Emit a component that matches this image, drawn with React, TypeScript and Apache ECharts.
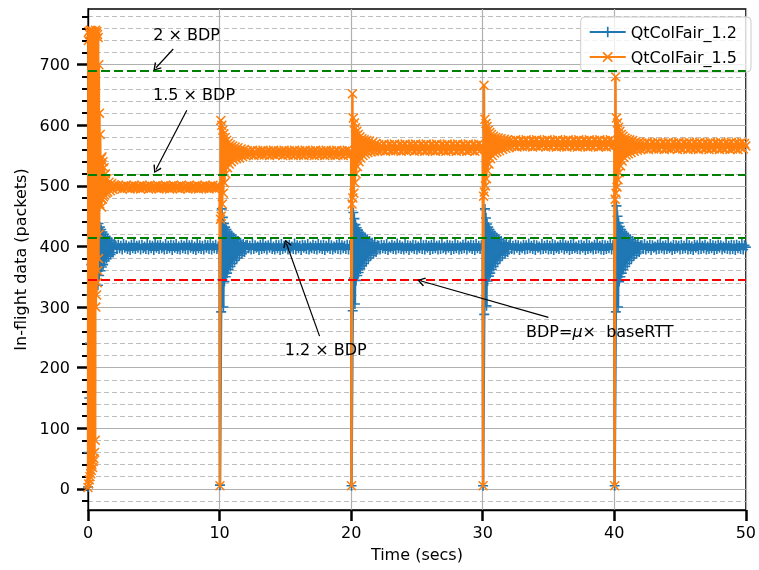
import React, { useEffect, useRef } from "react";
import * as echarts from "echarts";

// ---------- axes ----------
const X_MIN = 0;
const X_MAX = 50;
const X_INTERVAL = 10;
const Y_MIN = -35;
const Y_MAX = 792;
const yMajorTicks = [0, 100, 200, 300, 400, 500, 600, 700];
const yMinorTicks = [-20, 20, 40, 60, 80, 120, 140, 160, 180, 220, 240, 260, 280, 320, 340, 360, 380, 420, 440, 460, 480, 520, 540, 560, 580, 620, 640, 660, 680, 720, 740, 760, 780];

const seriesNames = ["QtColFair_1.2", "QtColFair_1.5"];

// ---------- QtColFair_1.2 (blue) ----------
const blueStart: [number, number][] = [
  [0, 3], [0.05, 60], [0.1, 150], [0.15, 240], [0.2, 320], [0.25, 370], [0.3, 390], [0.4, 400], [0.5, 395], [0.6, 405],
  [0.65, 368], [0.7, 430], [0.75, 336], [0.8, 438], [0.85, 352], [0.9, 432], [0.95, 360], [1.0, 428], [1.05, 366], [1.1, 424], [1.15, 370], [1.2, 420],
  [1.27, 376], [1.34, 416], [1.41, 380], [1.48, 413], [1.56, 384], [1.64, 410], [1.72, 387], [1.8, 407], [1.9, 390], [2.0, 404],
];
const blueT10: [number, number][] = [
  [10.0, 399], [10.03, 6], [10.12, 292], [10.17, 462], [10.21, 345], [10.25, 448], [10.29, 300], [10.33, 438], [10.37, 342], [10.42, 432],
  [10.47, 350], [10.52, 428], [10.57, 356], [10.63, 424], [10.69, 362], [10.76, 421], [10.83, 367], [10.9, 418], [10.98, 372], [11.06, 415], [11.14, 377],
  [11.22, 412], [11.31, 381], [11.4, 409], [11.5, 385], [11.6, 406], [11.7, 388], [11.8, 404], [11.9, 391], [12.0, 402],
];
const blueT20: [number, number][] = [
  [20.0, 398], [20.03, 5], [20.12, 294], [20.17, 456], [20.21, 348], [20.25, 446], [20.29, 305], [20.33, 436], [20.37, 344], [20.42, 431],
  [20.47, 352], [20.52, 427], [20.57, 357], [20.63, 423], [20.69, 363], [20.76, 420], [20.83, 368], [20.9, 417], [20.98, 372], [21.06, 415], [21.14, 377],
  [21.22, 412], [21.31, 381], [21.4, 409], [21.5, 385], [21.6, 406], [21.7, 388], [21.8, 404], [21.9, 391], [22.0, 402],
];
const blueT30: [number, number][] = [
  [30.0, 397], [30.03, 5], [30.12, 288], [30.17, 462], [30.21, 346], [30.25, 447], [30.29, 302], [30.33, 437], [30.37, 343], [30.42, 432],
  [30.47, 351], [30.52, 428], [30.57, 356], [30.63, 424], [30.69, 362], [30.76, 421], [30.83, 367], [30.9, 418], [30.98, 372], [31.06, 415], [31.14, 377],
  [31.22, 412], [31.31, 381], [31.4, 409], [31.5, 385], [31.6, 406], [31.7, 388], [31.8, 404], [31.9, 391], [32.0, 402],
];
const blueT40: [number, number][] = [
  [40.0, 399], [40.03, 5], [40.12, 292], [40.17, 467], [40.21, 344], [40.25, 450], [40.29, 300], [40.33, 439], [40.37, 342], [40.42, 433],
  [40.47, 350], [40.52, 428], [40.57, 356], [40.63, 424], [40.69, 362], [40.76, 421], [40.83, 367], [40.9, 418], [40.98, 372], [41.06, 415], [41.14, 377],
  [41.22, 412], [41.31, 381], [41.4, 409], [41.5, 385], [41.6, 406], [41.7, 388], [41.8, 404], [41.9, 391], [42.0, 402],
];
const blueSteadyA = [
  402, 396, 403, 397, 401, 395, 404, 398, 402, 396, 400, 394, 403, 397, 405, 396, 401, 398, 402, 395,
  403, 397, 400, 396, 404, 395, 402, 397, 401, 394, 405, 398, 402, 396, 403, 397, 400, 395, 404, 396,
  401, 397, 403, 394, 402, 398, 404, 396, 400, 395, 403, 397, 401, 396, 405, 395, 402, 398, 403, 396,
  400, 394, 404, 397, 402, 396, 401, 395, 403, 398, 402, 396, 404, 395, 401, 397, 403, 396, 400,
];
const blueSteadyB = [
  403, 397, 401, 395, 404, 396, 402, 398, 400, 394, 403, 396, 405, 397, 401, 395, 402, 398, 404, 396,
  400, 395, 403, 397, 402, 394, 404, 396, 401, 398, 402, 395, 403, 397, 400, 396, 405, 395, 402, 397,
  401, 394, 403, 398, 402, 396, 404, 395, 400, 397, 403, 396, 401, 395, 404, 397, 402, 396, 403, 394,
  401, 398, 404, 396, 402, 395, 400, 397, 403, 396, 405, 395, 402, 397, 401, 396, 403, 395, 402,
];
const blueSteadyC = [
  401, 395, 403, 397, 402, 396, 404, 394, 400, 398, 403, 396, 401, 395, 405, 397, 402, 396, 400, 395,
  404, 397, 402, 394, 401, 398, 403, 396, 402, 395, 400, 397, 404, 396, 402, 395, 403, 398, 401, 394,
  403, 396, 405, 397, 401, 395, 402, 396, 404, 397, 400, 395, 403, 398, 402, 394, 401, 396, 404, 397,
  402, 395, 400, 396, 403, 397, 405, 395, 401, 398, 403, 396, 402, 394, 404, 397, 401, 396, 402,
];
const blueSteadyD = [
  404, 396, 401, 395, 403, 398, 402, 394, 400, 397, 403, 395, 402, 396, 405, 397, 401, 396, 403, 394,
  402, 398, 400, 395, 404, 396, 401, 397, 403, 395, 401, 396, 404, 394, 402, 397, 400, 396, 403, 398,
  405, 395, 402, 397, 401, 394, 403, 396, 404, 397, 400, 396, 402, 395, 403, 398, 401, 394, 404, 396,
  402, 397, 400, 395, 403, 396, 405, 397, 401, 395, 403, 394, 402, 396, 401, 397, 404, 395, 402,
];
const blueSteadyE = [
  402, 396, 404, 395, 401, 397, 403, 394, 402, 398, 400, 395, 403, 396, 405, 397, 401, 395, 402, 396,
  404, 397, 400, 394, 403, 396, 402, 398, 401, 395, 403, 396, 401, 397, 404, 395, 402, 396, 400, 394,
  403, 398, 402, 395, 405, 396, 401, 397, 403, 395, 400, 396, 404, 397, 402, 394, 401, 396, 403, 398,
  402, 395, 400, 397, 404, 396, 401, 395, 403, 396, 402, 394, 403, 397, 401, 396, 404, 395, 402, 399,
];

// ---------- QtColFair_1.5 (orange) ----------
const orangeStart: [number, number][] = [
  [0, 2], [0.025, 740], [0.05, 8], [0.075, 755], [0.1, 15], [0.125, 750], [0.15, 20], [0.175, 757], [0.2, 25], [0.225, 752], [0.25, 30], [0.275, 756],
  [0.3, 40], [0.325, 750], [0.35, 35], [0.375, 755], [0.4, 45], [0.425, 748], [0.45, 50], [0.475, 754], [0.5, 60], [0.525, 750], [0.55, 80], [0.575, 757],
  [0.6, 300], [0.625, 752], [0.65, 320], [0.675, 755], [0.7, 340], [0.725, 750], [0.75, 360], [0.775, 745], [0.8, 380], [0.825, 700], [0.85, 420],
  [0.875, 620], [0.9, 470], [0.93, 585], [0.96, 480], [1.0, 545], [1.03, 465], [1.06, 548], [1.1, 478], [1.14, 540], [1.18, 482], [1.22, 530],
  [1.27, 485], [1.32, 520], [1.38, 488], [1.44, 512], [1.5, 490], [1.6, 506], [1.7, 492], [1.8, 504], [1.9, 494], [2.0, 502],
];
const orangeT10: [number, number][] = [
  [10.0, 497], [10.03, 5], [10.07, 445], [10.1, 608], [10.13, 450], [10.17, 600], [10.21, 470], [10.25, 592], [10.29, 488], [10.33, 586], [10.38, 505],
  [10.43, 580], [10.48, 520], [10.54, 575], [10.6, 530], [10.67, 571], [10.74, 536], [10.82, 568], [10.9, 540], [10.99, 566], [11.08, 543], [11.18, 564],
  [11.28, 545], [11.4, 563], [11.52, 546], [11.64, 561], [11.76, 548], [11.88, 560], [12.0, 550],
];
const orangeT20: [number, number][] = [
  [20.0, 553], [20.03, 5], [20.07, 470], [20.1, 652], [20.13, 480], [20.17, 612], [20.21, 488], [20.25, 604], [20.29, 505], [20.33, 596], [20.38, 520],
  [20.43, 590], [20.48, 532], [20.54, 585], [20.6, 540], [20.67, 581], [20.74, 546], [20.82, 578], [20.9, 550], [20.99, 576], [21.08, 553], [21.18, 575],
  [21.28, 555], [21.4, 574], [21.52, 556], [21.64, 572], [21.76, 557], [21.88, 570], [22.0, 558],
];
const orangeT30: [number, number][] = [
  [30.0, 565], [30.03, 5], [30.07, 483], [30.1, 666], [30.13, 490], [30.17, 610], [30.21, 500], [30.25, 603], [30.29, 512], [30.33, 598], [30.38, 525],
  [30.43, 592], [30.48, 536], [30.54, 588], [30.6, 545], [30.67, 585], [30.74, 550], [30.82, 582], [30.9, 554], [30.99, 580], [31.08, 556], [31.18, 579],
  [31.28, 558], [31.4, 578], [31.52, 560], [31.64, 577], [31.76, 562], [31.88, 576], [32.0, 563],
];
const orangeT40: [number, number][] = [
  [40.0, 569], [40.03, 5], [40.07, 478], [40.1, 680], [40.13, 488], [40.17, 612], [40.21, 498], [40.25, 604], [40.29, 510], [40.33, 597], [40.38, 522],
  [40.43, 590], [40.48, 533], [40.54, 585], [40.6, 541], [40.67, 582], [40.74, 547], [40.82, 579], [40.9, 551], [40.99, 577], [41.08, 553], [41.18, 576],
  [41.28, 555], [41.4, 575], [41.52, 557], [41.64, 573], [41.76, 559], [41.88, 572], [42.0, 560],
];
const orangeSteadyA = [
  500, 496, 501, 497, 499, 495, 500, 497, 501, 496, 499, 495, 500, 497, 501, 496, 499, 497, 500, 495,
  501, 496, 499, 497, 500, 495, 501, 496, 499, 497, 500, 496, 501, 495, 499, 497, 500, 496, 501, 497,
  499, 495, 500, 496, 501, 497, 499, 496, 500, 495, 501, 497, 499, 496, 500, 495, 501, 497, 499, 496,
  500, 496, 501, 495, 499, 497, 500, 496, 501, 497, 499, 495, 500, 497, 501, 496, 499, 497, 500,
];
const orangeSteadyB = [
  558, 551, 557, 552, 559, 550, 556, 553, 558, 551, 557, 552, 559, 551, 556, 553, 558, 550, 557, 552,
  559, 551, 556, 552, 558, 553, 557, 550, 559, 552, 556, 551, 558, 553, 557, 550, 559, 552, 556, 551,
  558, 552, 557, 550, 559, 553, 556, 551, 558, 552, 557, 550, 559, 552, 556, 551, 558, 553, 557, 550,
  559, 552, 556, 551, 558, 553, 557, 550, 559, 551, 556, 552, 558, 550, 557, 553, 559, 551, 557,
];
const orangeSteadyC = [
  568, 558, 567, 559, 569, 557, 566, 560, 568, 558, 567, 559, 569, 558, 566, 560, 568, 557, 567, 559,
  569, 558, 566, 559, 568, 560, 567, 557, 569, 559, 566, 558, 568, 560, 567, 557, 569, 559, 566, 558,
  568, 559, 567, 557, 569, 560, 566, 558, 568, 559, 567, 557, 569, 559, 566, 558, 568, 560, 567, 557,
  569, 559, 566, 558, 568, 560, 567, 557, 569, 558, 566, 559, 568, 557, 567, 560, 569, 558, 567,
];
const orangeSteadyD = [
  575, 565, 574, 566, 576, 564, 573, 567, 575, 565, 574, 566, 576, 565, 573, 567, 575, 564, 574, 566,
  576, 565, 573, 566, 575, 567, 574, 564, 576, 566, 573, 565, 575, 567, 574, 564, 576, 566, 573, 565,
  575, 566, 574, 564, 576, 567, 573, 565, 575, 566, 574, 564, 576, 566, 573, 565, 575, 567, 574, 564,
  576, 566, 573, 565, 575, 567, 574, 564, 576, 565, 573, 566, 575, 564, 574, 567, 576, 565, 574,
];
const orangeSteadyE = [
  571, 561, 570, 562, 572, 560, 569, 563, 571, 561, 570, 562, 572, 561, 569, 563, 571, 560, 570, 562,
  572, 561, 569, 562, 571, 563, 570, 560, 572, 562, 569, 561, 571, 563, 570, 560, 572, 562, 569, 561,
  571, 562, 570, 560, 572, 563, 569, 561, 571, 562, 570, 560, 572, 562, 569, 561, 571, 563, 570, 560,
  572, 562, 569, 561, 571, 563, 570, 560, 572, 561, 569, 562, 571, 560, 570, 563, 572, 561, 570, 566,
];

// steady segments are sampled every 0.1 s starting at these times
const SAMPLE_STEP = 0.1;
const steadyStarts = [2.1, 12.1, 22.1, 32.1, 42.1];

// ---------- reference lines & annotations ----------
const refLineValues = [690, 518, 415, 345];
const refLineColors = ["#008000", "#008000", "#008000", "#ff0000"];
const annoTexts = ["2 × BDP", "1.5 × BDP", "1.2 × BDP", "BDP={i|μ}×  baseRTT"];
const annoTextPos: [number, number][] = [[7.49, 749.5], [8.06, 650.6], [18.07, 230.3], [38.9, 259.6]];
const annoArrowFrom: [number, number][] = [[6.48, 726], [7.51, 625], [17.6, 252], [34.99, 283]];
const annoArrowTo: [number, number][] = [[5.17, 695], [5.17, 527], [15.08, 405], [25.32, 343]];

const FONT = "DejaVu Sans";
const PLUS = "path://M4.2,0H5.8V4.2H10V5.8H5.8V10H4.2V5.8H0V4.2H4.2Z";
const CROSS = "path://M0,1.1L1.1,0L5,3.9L8.9,0L10,1.1L6.1,5L10,8.9L8.9,10L5,6.1L1.1,10L0,8.9L3.9,5Z";
const CHEVRON = "path://M5,0L10,7L8.8,8L5,2.4L1.2,8L0,7Z";

function steady(start: number, values: number[]): [number, number][] {
  return values.map((v, i) => [Math.round((start + i * SAMPLE_STEP) * 100) / 100, v]);
}

export default function App() {
  const ref = useRef<HTMLDivElement>(null);
  useEffect(() => {
    if (!ref.current) return;
    const chart = echarts.init(ref.current, null, { renderer: "svg" });

    const blueData = [
      ...blueStart, ...steady(steadyStarts[0], blueSteadyA),
      ...blueT10, ...steady(steadyStarts[1], blueSteadyB),
      ...blueT20, ...steady(steadyStarts[2], blueSteadyC),
      ...blueT30, ...steady(steadyStarts[3], blueSteadyD),
      ...blueT40, ...steady(steadyStarts[4], blueSteadyE),
    ];
    const orangeData = [
      ...orangeStart, ...steady(steadyStarts[0], orangeSteadyA),
      ...orangeT10, ...steady(steadyStarts[1], orangeSteadyB),
      ...orangeT20, ...steady(steadyStarts[2], orangeSteadyC),
      ...orangeT30, ...steady(steadyStarts[3], orangeSteadyD),
      ...orangeT40, ...steady(steadyStarts[4], orangeSteadyE),
    ];

    const textStyle = { fontFamily: FONT, fontSize: 16, color: "#000" };

    chart.setOption({
      animation: false,
      grid: { left: 88, right: 7, top: 9, bottom: 60, show: true, borderColor: "#000", borderWidth: 1.3, backgroundColor: "transparent" },
      legend: {
        data: seriesNames,
        orient: "vertical",
        right: 8,
        top: 17,
        padding: [6, 14, 6, 8],
        itemGap: 7,
        itemWidth: 36,
        itemHeight: 13,
        itemTextGap: 8,
        backgroundColor: "rgba(255,255,255,0.8)",
        borderColor: "#cccccc",
        borderWidth: 1,
        borderRadius: 4,
        textStyle: { ...textStyle, lineHeight: 18 },
      },
      xAxis: {
        type: "value",
        min: X_MIN,
        max: X_MAX,
        interval: X_INTERVAL,
        name: "Time (secs)",
        nameLocation: "middle",
        nameGap: 36,
        nameTextStyle: textStyle,
        axisLine: { show: true, onZero: false, lineStyle: { color: "#000", width: 1.3 } },
        axisTick: { show: true, length: 11, lineStyle: { color: "#000", width: 2.5 } },
        axisLabel: { ...textStyle, margin: 14 },
        splitLine: { show: true, lineStyle: { color: "#b0b0b0", width: 1.2 } },
      },
      yAxis: [
        {
          type: "value",
          min: Y_MIN,
          max: Y_MAX,
          position: "left",
          name: "In-flight data (packets)",
          nameLocation: "middle",
          nameGap: 56,
          nameTextStyle: textStyle,
          axisLine: { show: true, onZero: false, lineStyle: { color: "#000", width: 1.3 } },
          axisTick: { show: true, length: 11, customValues: yMajorTicks, lineStyle: { color: "#000", width: 2.5 } },
          axisLabel: { ...textStyle, margin: 18, customValues: yMajorTicks },
          splitLine: { show: true, lineStyle: { color: "#b0b0b0", width: 1.2 } },
        },
        {
          type: "value",
          min: Y_MIN,
          max: Y_MAX,
          position: "left",
          axisLine: { show: false, onZero: false },
          axisTick: { show: true, length: 6, customValues: yMinorTicks, lineStyle: { color: "#000", width: 2 } },
          axisLabel: { show: false },
          splitLine: { show: true, lineStyle: { color: "#bdbdbd", width: 1, type: [5, 3] } },
        },
      ],
      series: [
        {
          name: seriesNames[0],
          type: "line",
          z: 2,
          data: blueData,
          symbol: PLUS,
          symbolSize: 10,
          showSymbol: true,
          itemStyle: { color: "#1f77b4" },
          lineStyle: { color: "#1f77b4", width: 2.4 },
          clip: true,
        },
        {
          name: seriesNames[1],
          type: "line",
          z: 3,
          data: orangeData,
          symbol: CROSS,
          symbolSize: 10,
          showSymbol: true,
          itemStyle: { color: "#ff7f0e" },
          lineStyle: { color: "#ff7f0e", width: 2.4 },
          clip: true,
        },
        {
          name: "refs",
          type: "line",
          z: 4,
          data: [],
          silent: true,
          markLine: {
            silent: true,
            symbol: ["none", "none"],
            label: { show: false },
            data: refLineValues.map((v, i) => ({
              yAxis: v,
              lineStyle: { color: refLineColors[i], width: 2, type: [9, 4] },
            })),
          },
        },
        {
          name: "arrows",
          type: "line",
          z: 5,
          data: [],
          silent: true,
          markLine: {
            silent: true,
            symbol: ["none", CHEVRON],
            symbolSize: [9, 8],
            label: { show: false },
            lineStyle: { color: "#000", width: 1.2, type: "solid" },
            data: annoArrowFrom.map((p, i) => [{ coord: p }, { coord: annoArrowTo[i] }]),
          },
        },
        {
          name: "annotations",
          type: "scatter",
          z: 5,
          silent: true,
          symbolSize: 1,
          itemStyle: { color: "rgba(0,0,0,0)" },
          data: annoTexts.map((t, i) => ({
            value: annoTextPos[i],
            label: {
              show: true,
              position: "inside",
              formatter: t,
              align: "center",
              verticalAlign: "middle",
              fontFamily: FONT,
              fontSize: 16,
              color: "#000",
              opacity: 1,
              textBorderWidth: 0,
              textBorderColor: "transparent",
              rich: { i: { fontFamily: FONT, fontSize: 16, fontStyle: "italic", color: "#000", textBorderWidth: 0 } },
            },
          })),
        },
      ],
    });
    return () => chart.dispose();
  }, []);
  return <div ref={ref} style={{ position: "fixed", left: 0, top: 0, width: 759, height: 570 }} />;
}
